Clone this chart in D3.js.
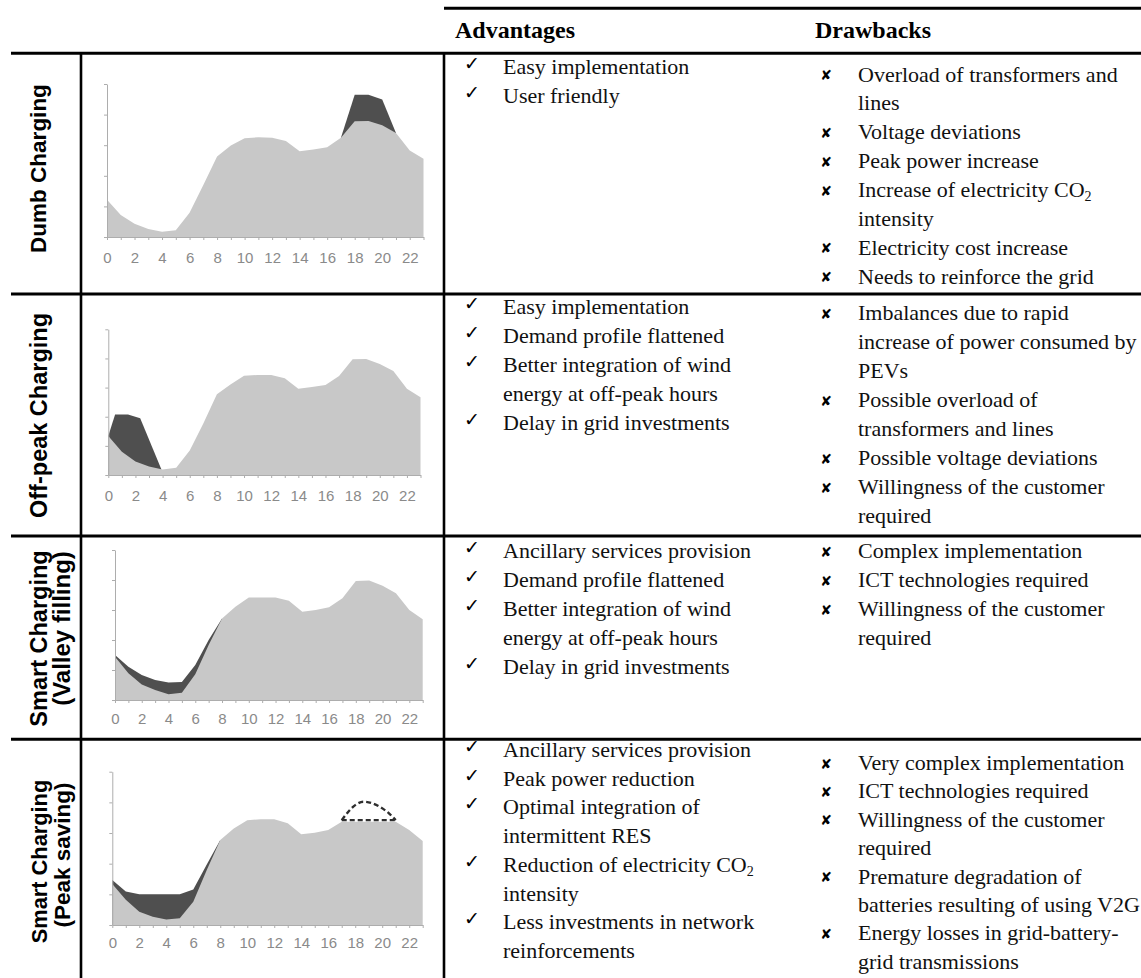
<!DOCTYPE html>
<html><head><meta charset="utf-8">
<script src="https://cdn.jsdelivr.net/npm/d3@7"></script>
<style>
html,body{margin:0;padding:0;background:#fff;}
svg{display:block;}
</style></head><body>
<svg id="chart" width="1141" height="978"></svg>
<script>
// ---------------- DATA ----------------
const hours = d3.range(0, 24);
const hourLabels = ["0","2","4","6","8","10","12","14","16","18","20","22"];
const yTicks = [0, 1, 2, 3, 4, 5];

const rowTitles = [["Dumb Charging"], ["Off-peak Charging"], ["Smart Charging", "(Valley filling)"], ["Smart Charging", "(Peak saving)"]];
const headerTitles = ["Advantages", "Drawbacks"];

// demand without EVs (light grey) and with EV charging (dark), in axis units
const dumbBase = [1.22,0.72,0.43,0.26,0.17,0.22,0.79,1.70,2.63,2.99,3.23,3.26,3.24,3.14,2.80,2.86,2.93,3.24,3.78,3.79,3.65,3.40,2.83,2.56];
const dumbWithEV = [[17,3.24],[18,4.65],[19,4.65],[20,4.49],[21,3.40]];

const offpeakBase = [1.34,0.80,0.46,0.29,0.19,0.25,0.84,1.77,2.77,3.11,3.41,3.43,3.43,3.32,2.96,3.02,3.09,3.40,3.97,3.98,3.81,3.57,2.96,2.67];
const offpeakWithEV = [[0,1.34],[0.5,2.08],[1.45,2.08],[2.35,1.95],[3.9,0.21]];

const valleyBase = [1.44,0.89,0.52,0.33,0.19,0.24,0.86,1.83,2.72,3.11,3.42,3.42,3.42,3.31,2.94,3.00,3.09,3.39,3.97,3.98,3.81,3.56,3.00,2.69];
const valleyWithEV = [[0,1.50],[1,1.11],[2,0.83],[3,0.67],[4,0.58],[5,0.60],[6,1.17],[7,2.00],[8,2.72]];

const peakBase = [1.34,0.82,0.43,0.27,0.18,0.22,0.76,1.79,2.77,3.15,3.42,3.45,3.45,3.32,2.96,3.01,3.10,3.37,3.37,3.37,3.37,3.37,3.10,2.74];
const peakWithEV = [[0,1.47],[1,1.09],[2,1.00],[3,1.00],[4,1.00],[5,1.00],[6,1.16],[7,1.97],[8,2.77]];
const peakOriginal = [[17,3.42],[18,3.91],[18.6,4.02],[19.8,3.86],[20.5,3.64],[21,3.42]];
const peakCap = [[17,3.42],[21,3.42]];

const advDumb = [["Easy implementation"],["User friendly"]];
const drwDumb = [["Overload of transformers and","lines"],["Voltage deviations"],["Peak power increase"],["Increase of electricity CO2","intensity"],["Electricity cost increase"],["Needs to reinforce the grid"]];
const advOffpeak = [["Easy implementation"],["Demand profile flattened"],["Better integration of wind","energy at off-peak hours"],["Delay in grid investments"]];
const drwOffpeak = [["Imbalances due to rapid","increase of power consumed by","PEVs"],["Possible overload of","transformers and lines"],["Possible voltage deviations"],["Willingness of the customer","required"]];
const advValley = [["Ancillary services provision"],["Demand profile flattened"],["Better integration of wind","energy at off-peak hours"],["Delay in grid investments"]];
const drwValley = [["Complex implementation"],["ICT technologies required"],["Willingness of the customer","required"]];
const advPeak = [["Ancillary services provision"],["Peak power reduction"],["Optimal integration of","intermittent RES"],["Reduction of electricity CO2","intensity"],["Less investments in network","reinforcements"]];
const drwPeak = [["Very complex implementation"],["ICT technologies required"],["Willingness of the customer","required"],["Premature degradation of","batteries resulting of using V2G"],["Energy losses in grid-battery-","grid transmissions"]];

// ---------------- LAYOUT ----------------
const svg = d3.select("#chart");
const LIGHT = "#c8c8c8", DARK = "#4f4f4f", AXIS = "#adadad", TICKTXT = "#8a8a8a";

const panels = [
  {x0:107,   x1:423.5, yBase:237, yTop:84,    pad:12, base:dumbBase,    ev:dumbWithEV},
  {x0:108.3, x1:420.5, yBase:475, yTop:329.3, pad:12, base:offpeakBase, ev:offpeakWithEV},
  {x0:115,   x1:422.7, yBase:700, yTop:550,   pad:10, base:valleyBase,  ev:valleyWithEV},
  {x0:112.3, x1:422.7, yBase:925, yTop:771.7, pad:9,  base:peakBase,    ev:peakWithEV, dashed:[peakOriginal, peakCap]}
];

panels.forEach(p => {
  const x = d3.scaleLinear().domain([0, 23]).range([p.x0, p.x1]);
  const y = d3.scaleLinear().domain([0, 5]).range([p.yBase, p.yTop]);
  const g = svg.append("g");
  const evArea = d3.area().x(d => x(d[0])).y0(y(0)).y1(d => y(d[1]));
  g.append("path").datum(p.ev).attr("d", evArea).attr("fill", DARK);
  const baseArea = d3.area().x((d, i) => x(hours[i])).y0(y(0)).y1(d => y(d));
  g.append("path").datum(p.base).attr("d", baseArea).attr("fill", LIGHT);
  if (p.dashed) {
    const line = d3.line().x(d => x(d[0])).y(d => y(d[1])).curve(d3.curveMonotoneX);
    p.dashed.forEach(ds => {
      g.append("path").datum(ds).attr("d", line).attr("fill", "none")
        .attr("stroke", "#2e2e2e").attr("stroke-width", 2.4).attr("stroke-dasharray", "5,3");
    });
  }
  const xAxis = d3.axisBottom(x).tickValues(hours).tickSize(3).tickSizeOuter(0).tickPadding(p.pad)
    .tickFormat(d => hourLabels.includes(String(d)) ? String(d) : "");
  const ax = g.append("g").attr("transform", `translate(0,${p.yBase})`).call(xAxis);
  ax.attr("font-size", 15).attr("font-family", "'Liberation Sans', Arial, sans-serif");
  ax.select(".domain").attr("stroke", AXIS);
  ax.selectAll(".tick line").attr("stroke", AXIS);
  ax.selectAll(".tick text").attr("fill", TICKTXT);
  const yAxis = d3.axisLeft(y).tickValues(yTicks).tickSize(3).tickSizeOuter(0).tickFormat("");
  const ay = g.append("g").attr("transform", `translate(${p.x0},0)`).call(yAxis);
  ay.select(".domain").attr("stroke", AXIS);
  ay.selectAll(".tick line").attr("stroke", AXIS);
});

// ---------------- TABLE LINES ----------------
const rowLines = [53.3, 294, 536, 739.3];
svg.append("line").attr("x1", 444).attr("x2", 1141).attr("y1", 8.3).attr("y2", 8.3).attr("stroke", "#000").attr("stroke-width", 3);
rowLines.forEach(yy => svg.append("line").attr("x1", 11).attr("x2", 1141).attr("y1", yy).attr("y2", yy).attr("stroke", "#000").attr("stroke-width", 3));
[81, 444].forEach(xx => svg.append("line").attr("x1", xx).attr("x2", xx).attr("y1", 53).attr("y2", 978).attr("stroke", "#000").attr("stroke-width", 2.6));

// ---------------- HEADERS ----------------
const serif = "'Liberation Serif', 'Times New Roman', Times, serif";
const sans = "'Liberation Sans', Arial, Helvetica, sans-serif";
[[455, headerTitles[0]], [815, headerTitles[1]]].forEach(([xx, t]) => {
  svg.append("text").attr("x", xx).attr("y", 37.5).attr("font-family", serif).attr("font-weight", "bold")
    .attr("font-size", 24).text(t);
});

// row titles (rotated)
const titleLayout = [
  [{cx:45.5, cy:168.5, fs:22.5}],
  [{cx:46.5, cy:415.5, fs:23.5}],
  [{cx:46.5, cy:638.5, fs:23.5}, {cx:70, cy:628.5, fs:24}],
  [{cx:46.5, cy:861.5, fs:21.8}, {cx:70, cy:855, fs:22.5}]
];
rowTitles.forEach((lines, r) => {
  lines.forEach((t, j) => {
    const L = titleLayout[r][j];
    svg.append("text").attr("transform", `translate(${L.cx},${L.cy}) rotate(-90)`)
      .attr("text-anchor", "middle").attr("font-family", sans).attr("font-weight", "bold")
      .attr("font-size", L.fs).text(t);
  });
});

// ---------------- LISTS ----------------
function writeLine(sel, str) {
  const parts = str.split("CO2");
  if (parts.length === 1) { sel.text(str); return; }
  sel.append("tspan").text(parts[0] + "CO");
  sel.append("tspan").attr("font-size", 14).attr("dy", 4).text("2");
  if (parts[1]) sel.append("tspan").attr("dy", -4).text(parts[1]);
}

const lists = [
  {items: advDumb,    y0: 74,  lh: 29,   bx: 472, tx: 503, kind: "adv"},
  {items: drwDumb,    y0: 81.5,lh: 28.9, bx: 826, tx: 858, kind: "drw"},
  {items: advOffpeak, y0: 314, lh: 29,   bx: 472, tx: 503, kind: "adv"},
  {items: drwOffpeak, y0: 320, lh: 29,   bx: 826, tx: 858, kind: "drw"},
  {items: advValley,  y0: 558, lh: 29,   bx: 472, tx: 503, kind: "adv"},
  {items: drwValley,  y0: 558, lh: 29,   bx: 826, tx: 858, kind: "drw"},
  {items: advPeak,    y0: 757, lh: 28.7, bx: 472, tx: 503, kind: "adv"},
  {items: drwPeak,    y0: 770, lh: 28.4, bx: 826, tx: 858, kind: "drw"}
];

lists.forEach(L => {
  let k = 0;
  L.items.forEach(item => {
    item.forEach((line, j) => {
      const yy = L.y0 + k * L.lh;
      if (j === 0) {
        if (L.kind === "adv") {
          svg.append("text").attr("x", L.bx).attr("y", yy - 4).attr("text-anchor", "middle")
            .attr("font-family", "'DejaVu Sans', sans-serif").attr("font-size", 19).text("\u2713");
        } else {
          svg.append("text").attr("x", L.bx).attr("y", yy - 1.5).attr("text-anchor", "middle")
            .attr("font-family", "'DejaVu Sans', sans-serif").attr("font-size", 14).text("\u2718");
        }
      }
      const t = svg.append("text").attr("x", L.tx).attr("y", yy).attr("font-family", serif).attr("font-size", 22).attr("fill", "#111");
      writeLine(t, line);
      k++;
    });
  });
});
</script>
</body></html>
